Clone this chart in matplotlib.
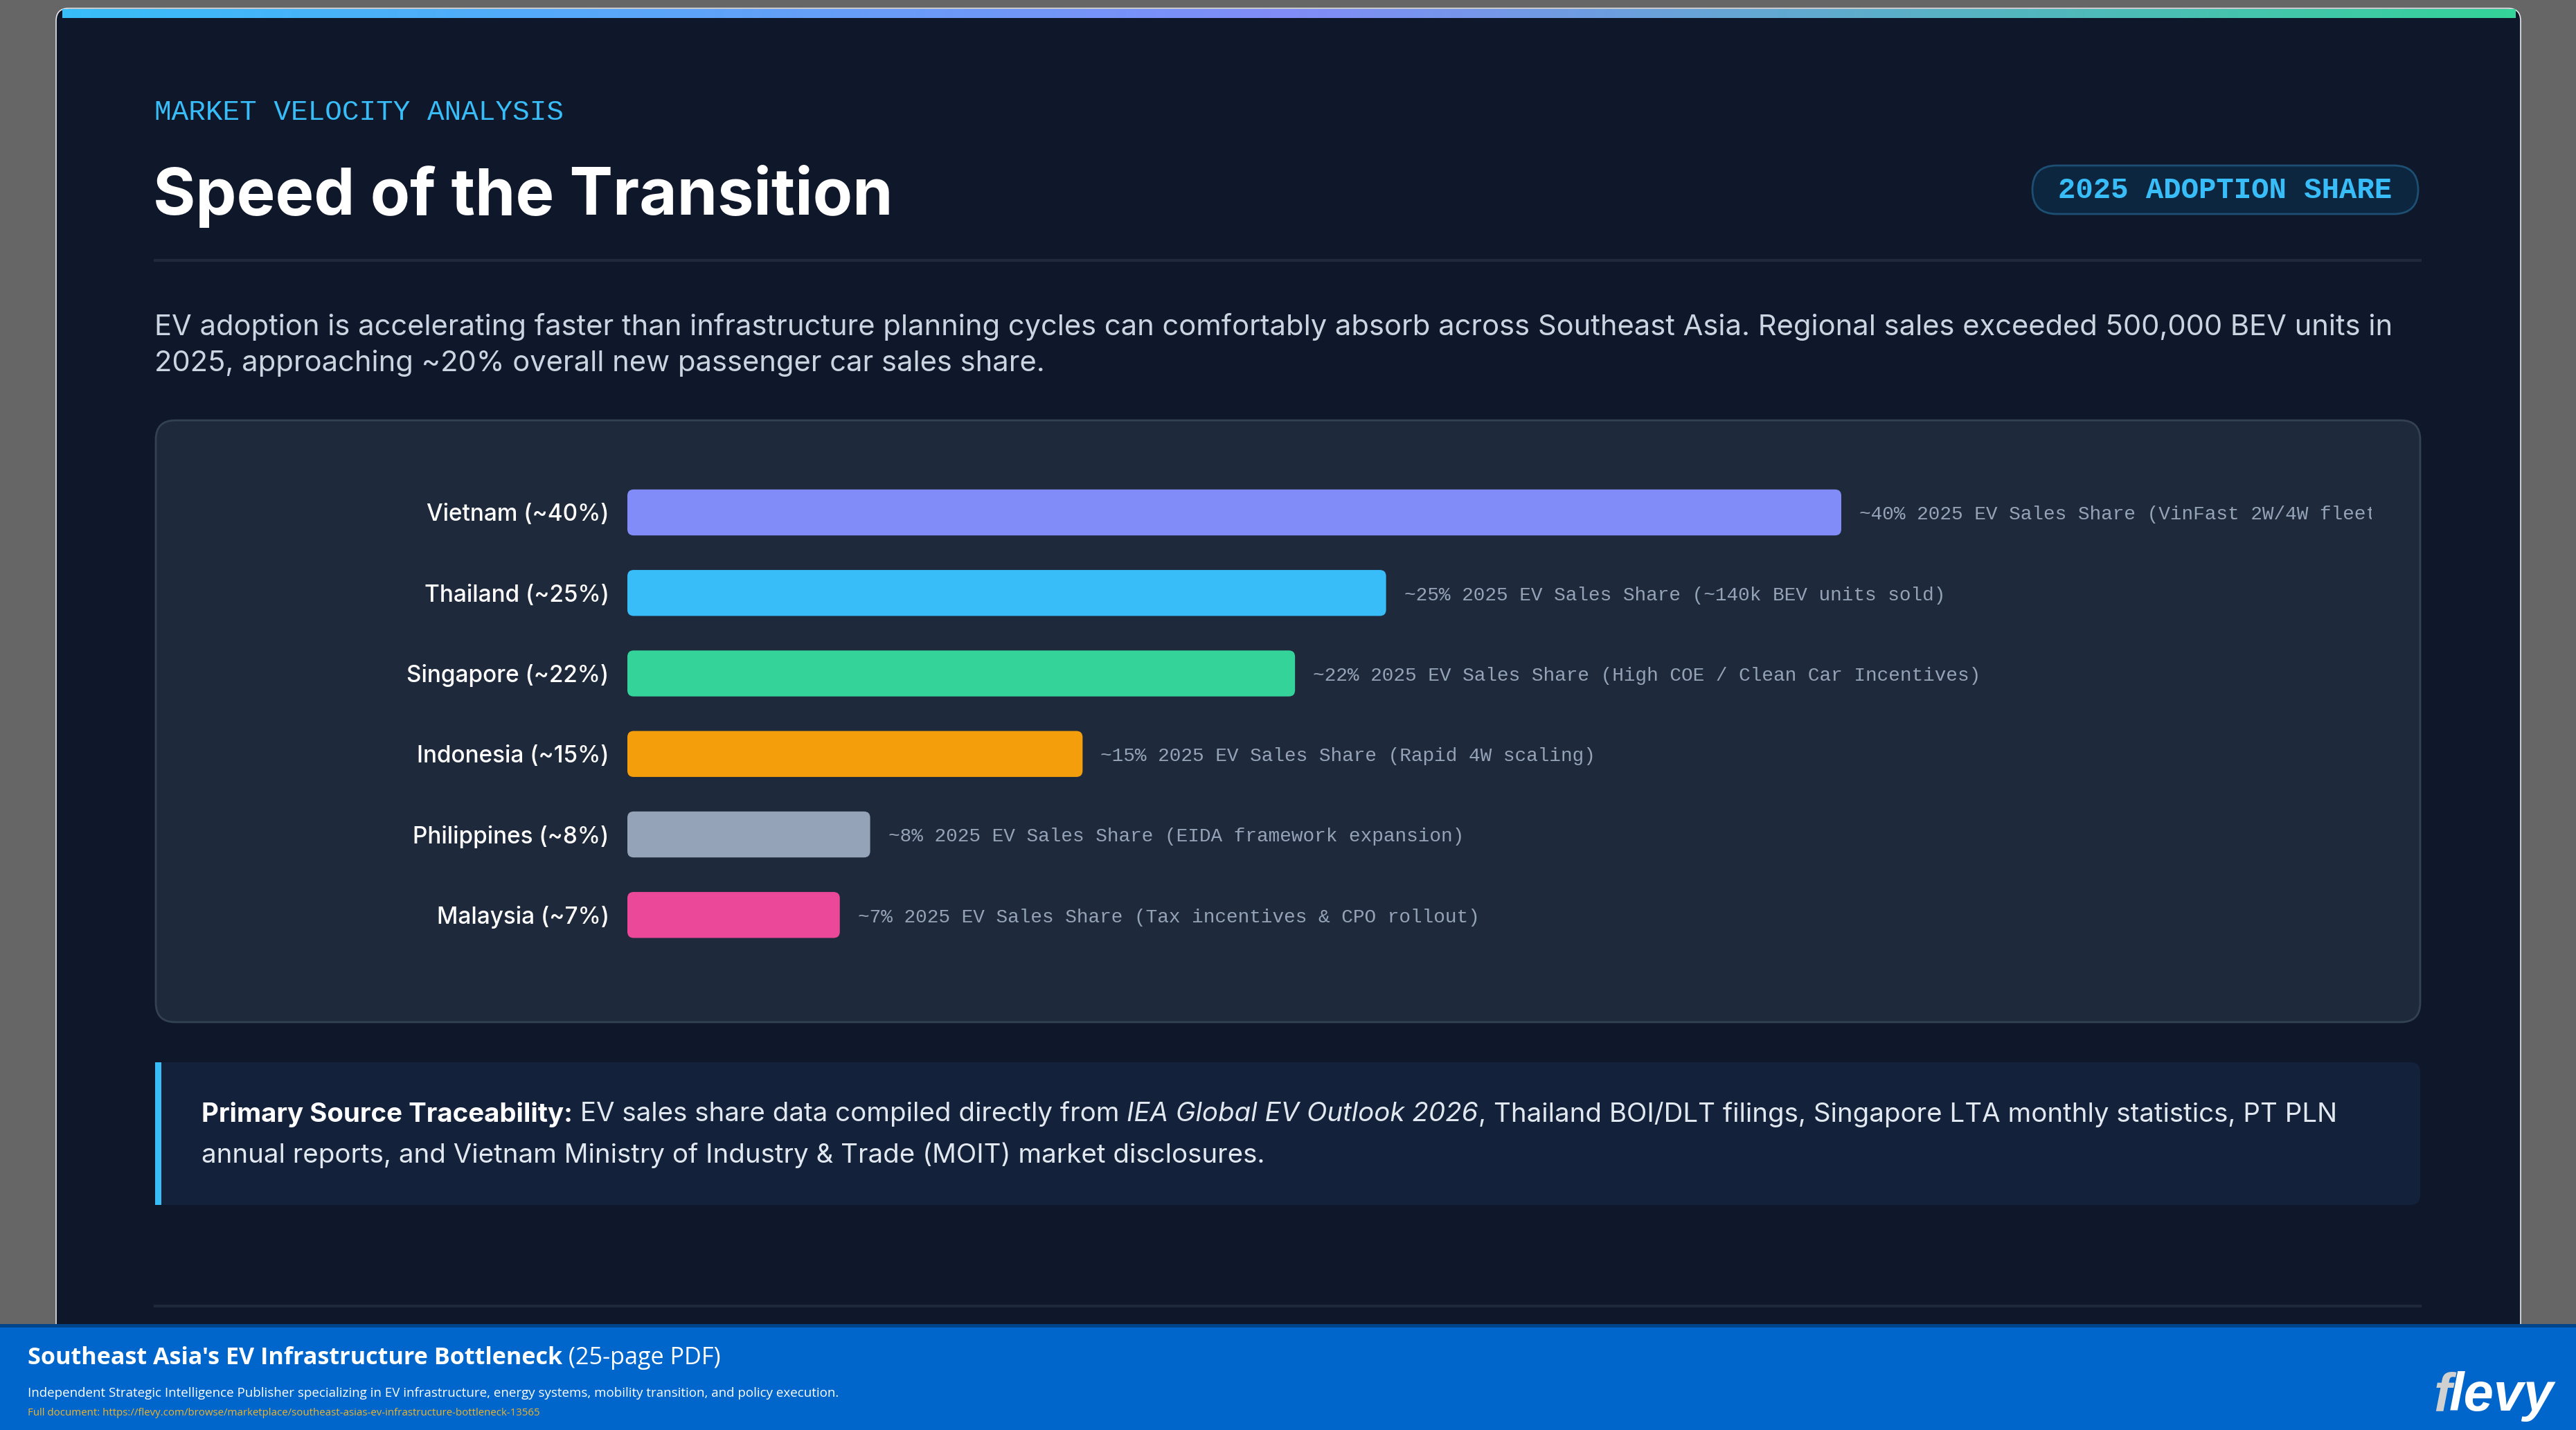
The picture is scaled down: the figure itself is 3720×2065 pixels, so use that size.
"""Speed of the Transition - 2025 EV adoption share slide, redrawn with matplotlib."""
import numpy as np
import matplotlib
matplotlib.use("Agg")
import matplotlib.pyplot as plt
from matplotlib.patches import FancyBboxPatch, Rectangle
from matplotlib.colors import LinearSegmentedColormap

# ---------------------------------------------------------------------------
# Data
# ---------------------------------------------------------------------------
countries = ["Vietnam", "Thailand", "Singapore", "Indonesia", "Philippines", "Malaysia"]
share_pct = [40, 25, 22, 15, 8, 7]
bar_colors = ["#818cf8", "#38bdf8", "#34d399", "#f59e0b", "#94a3b8", "#ec4899"]
notes = [
    "VinFast 2W/4W fleet expansion",
    "~140k BEV units sold",
    "High COE / Clean Car Incentives",
    "Rapid 4W scaling",
    "EIDA framework expansion",
    "Tax incentives & CPO rollout",
]

W, H = 3720, 2065
SANS = "Inter"
MONO = "Liberation Mono"

BG_OUT = "#666666"
CARD = "#0f172a"
PANEL = "#1e293b"
PANEL_EDGE = "#334155"
CYAN = "#38bdf8"

fig = plt.figure(figsize=(W / 100, H / 100), dpi=100)
fig.patch.set_facecolor(BG_OUT)

# background axes in pixel units (y downwards)
bg = fig.add_axes([0, 0, 1, 1])
bg.set_xlim(0, W)
bg.set_ylim(H, 0)
bg.axis("off")

# card
bg.add_patch(FancyBboxPatch((81, 12), 3559, 1920, boxstyle="round,pad=0,rounding_size=18",
                            fc=CARD, ec="#e5e7eb", lw=1.2))
# top gradient strip
grad = LinearSegmentedColormap.from_list("strip", [CYAN, "#818cf8", "#34d399"])
bg.imshow(np.linspace(0, 1, 256)[None, :], cmap=grad, aspect="auto",
          extent=(90, 3632, 26, 13), zorder=2)

# header
bg.text(223, 173, "MARKET VELOCITY ANALYSIS", fontfamily=MONO, fontsize=29.5,
        color=CYAN, va="baseline", ha="left")
bg.text(221, 310, "Speed of the Transition", fontfamily=SANS, fontweight="bold",
        fontsize=67.5, color="white", va="baseline", ha="left")

# badge
bg.add_patch(FancyBboxPatch((2935, 239), 557, 70, boxstyle="round,pad=0,rounding_size=35",
                            fc="#0c2640", ec="#1d4f74", lw=2))
bg.text(3213, 275, "2025 ADOPTION SHARE", fontfamily=MONO, fontweight="bold",
        fontsize=30.5, color=CYAN, ha="center", va="center")

bg.plot([224, 3495], [376, 376], color="#1e293b", lw=3)

# intro paragraph
para_color = "#cbd5e1"
bg.text(223, 472, "EV adoption is accelerating faster than infrastructure planning cycles can "
        "comfortably absorb across Southeast Asia. Regional sales exceeded 500,000 BEV units in",
        fontfamily=SANS, fontsize=30, color=para_color, va="center", ha="left")
bg.text(223, 525, "2025, approaching ~20% overall new passenger car sales share.",
        fontfamily=SANS, fontsize=30, color=para_color, va="center", ha="left")

# chart panel
bg.add_patch(FancyBboxPatch((225, 607), 3270, 869, boxstyle="round,pad=0,rounding_size=28",
                            fc=PANEL, ec=PANEL_EDGE, lw=2))

# ---------------------------------------------------------------------------
# Bar chart
# ---------------------------------------------------------------------------
S = 116.25            # px between bar centres
c0 = 740              # px centre of first bar
x0_px, x40_px, xr_px = 906, 2659, 3425
px_per_unit = (x40_px - x0_px) / 40.0
top_px = c0 - 0.75 * S
ax_h = 6.5 * S
ax = fig.add_axes([x0_px / W, 1 - (top_px + ax_h) / H, (xr_px - x0_px) / W, ax_h / H])
ax.set_facecolor("none")
ax.set_xlim(0, (xr_px - x0_px) / px_per_unit)
ax.set_ylim(5.75, -0.75)
y = np.arange(len(countries))
bars = ax.barh(y, share_pct, height=0.571, color=bar_colors, zorder=3)
# swap the square bars for rounded ones of the same extent
radius_px = 9
for b in bars:
    bx, by, bw, bh = b.get_x(), b.get_y(), b.get_width(), b.get_height()
    ax.add_patch(FancyBboxPatch((bx, by), bw, bh,
                                boxstyle=f"round,pad=0,rounding_size={radius_px / px_per_unit}",
                                mutation_aspect=px_per_unit / S,
                                fc=b.get_facecolor(), ec="none", zorder=3))
    b.set_visible(False)
ax.set_yticks(y)
ax.set_yticklabels([f"{c} (~{v}%)" for c, v in zip(countries, share_pct)],
                   fontfamily=SANS, fontsize=24, fontweight="medium", color="white")
ax.tick_params(axis="y", length=0, pad=19)
ax.set_xticks([])
for s in ax.spines.values():
    s.set_visible(False)
for yi, v, n in zip(y, share_pct, notes):
    ax.text(v + 26 / px_per_unit, yi + 0.03, f"~{v}% 2025 EV Sales Share ({n})",
            fontfamily=MONO, fontsize=20, color="#94a3b8", va="center", ha="left",
            clip_on=True)

# ---------------------------------------------------------------------------
# Source box
# ---------------------------------------------------------------------------
bg.add_patch(FancyBboxPatch((224, 1534), 3271, 206, boxstyle="round,pad=0,rounding_size=14",
                            fc="#13223a", ec="none"))
bg.add_patch(Rectangle((224, 1534), 9, 206, fc=CYAN, ec="none"))

renderer = fig.canvas.get_renderer()


def rich_line(x, yy, parts, size):
    for txt, weight, style, color in parts:
        t = bg.text(x, yy, txt, fontfamily=SANS, fontsize=size, fontweight=weight,
                    fontstyle=style, color=color, va="center", ha="left")
        x = t.get_window_extent(renderer).x1


src_c = "#e2e8f0"
rich_line(291, 1609, [
    ("Primary Source Traceability:", "bold", "normal", "white"),
    (" EV sales share data compiled directly from ", "normal", "normal", src_c),
    ("IEA Global EV Outlook 2026", "normal", "italic", src_c),
    (", Thailand BOI/DLT filings, Singapore LTA monthly statistics, PT PLN", "normal", "normal", src_c),
], 27.7)
rich_line(291, 1668, [
    ("annual reports, and Vietnam Ministry of Industry & Trade (MOIT) market disclosures.",
     "normal", "normal", src_c),
], 27.7)

bg.plot([224, 3495], [1886, 1886], color="#1e293b", lw=3)

# ---------------------------------------------------------------------------
# Footer
# ---------------------------------------------------------------------------
bg.add_patch(Rectangle((0, 1912), W, H - 1912, fc="#0066cc", ec="none", zorder=5))
bg.add_patch(Rectangle((0, 1912), W, 5, fc="#00448a", ec="none", zorder=5))
fx = 40
t = bg.text(fx, 1961, "Southeast Asia's EV Infrastructure Bottleneck", fontfamily="Open Sans",
            fontweight="bold", fontsize=24.6, color="white", va="center", ha="left", zorder=6)
bg.text(t.get_window_extent(renderer).x1, 1961, " (25-page PDF)", fontfamily="Open Sans",
        fontsize=24.6, color="white", va="center", ha="left", zorder=6)
bg.text(fx, 2012, "Independent Strategic Intelligence Publisher specializing in EV infrastructure, "
        "energy systems, mobility transition, and policy execution.", fontfamily="Open Sans",
        fontsize=13.5, color="white", va="center", ha="left", zorder=6)
bg.text(fx, 2041, "Full document: https://flevy.com/browse/marketplace/"
        "southeast-asias-ev-infrastructure-bottleneck-13565", fontfamily="Open Sans",
        fontsize=10.8, color="#f0b429", va="center", ha="left", zorder=6)
tf = bg.text(3514, 2037, "f", fontfamily="Liberation Sans", fontweight="bold", fontstyle="italic",
             fontsize=56, color="#d0d0d0", va="baseline", ha="left", zorder=6)
bg.text(tf.get_window_extent(renderer).x1 - 3, 2037, "levy", fontfamily="Liberation Sans",
        fontweight="bold", fontstyle="italic", fontsize=56, color="white",
        va="baseline", ha="left", zorder=6)

fig.savefig("out.png", dpi=100, facecolor=fig.get_facecolor())
